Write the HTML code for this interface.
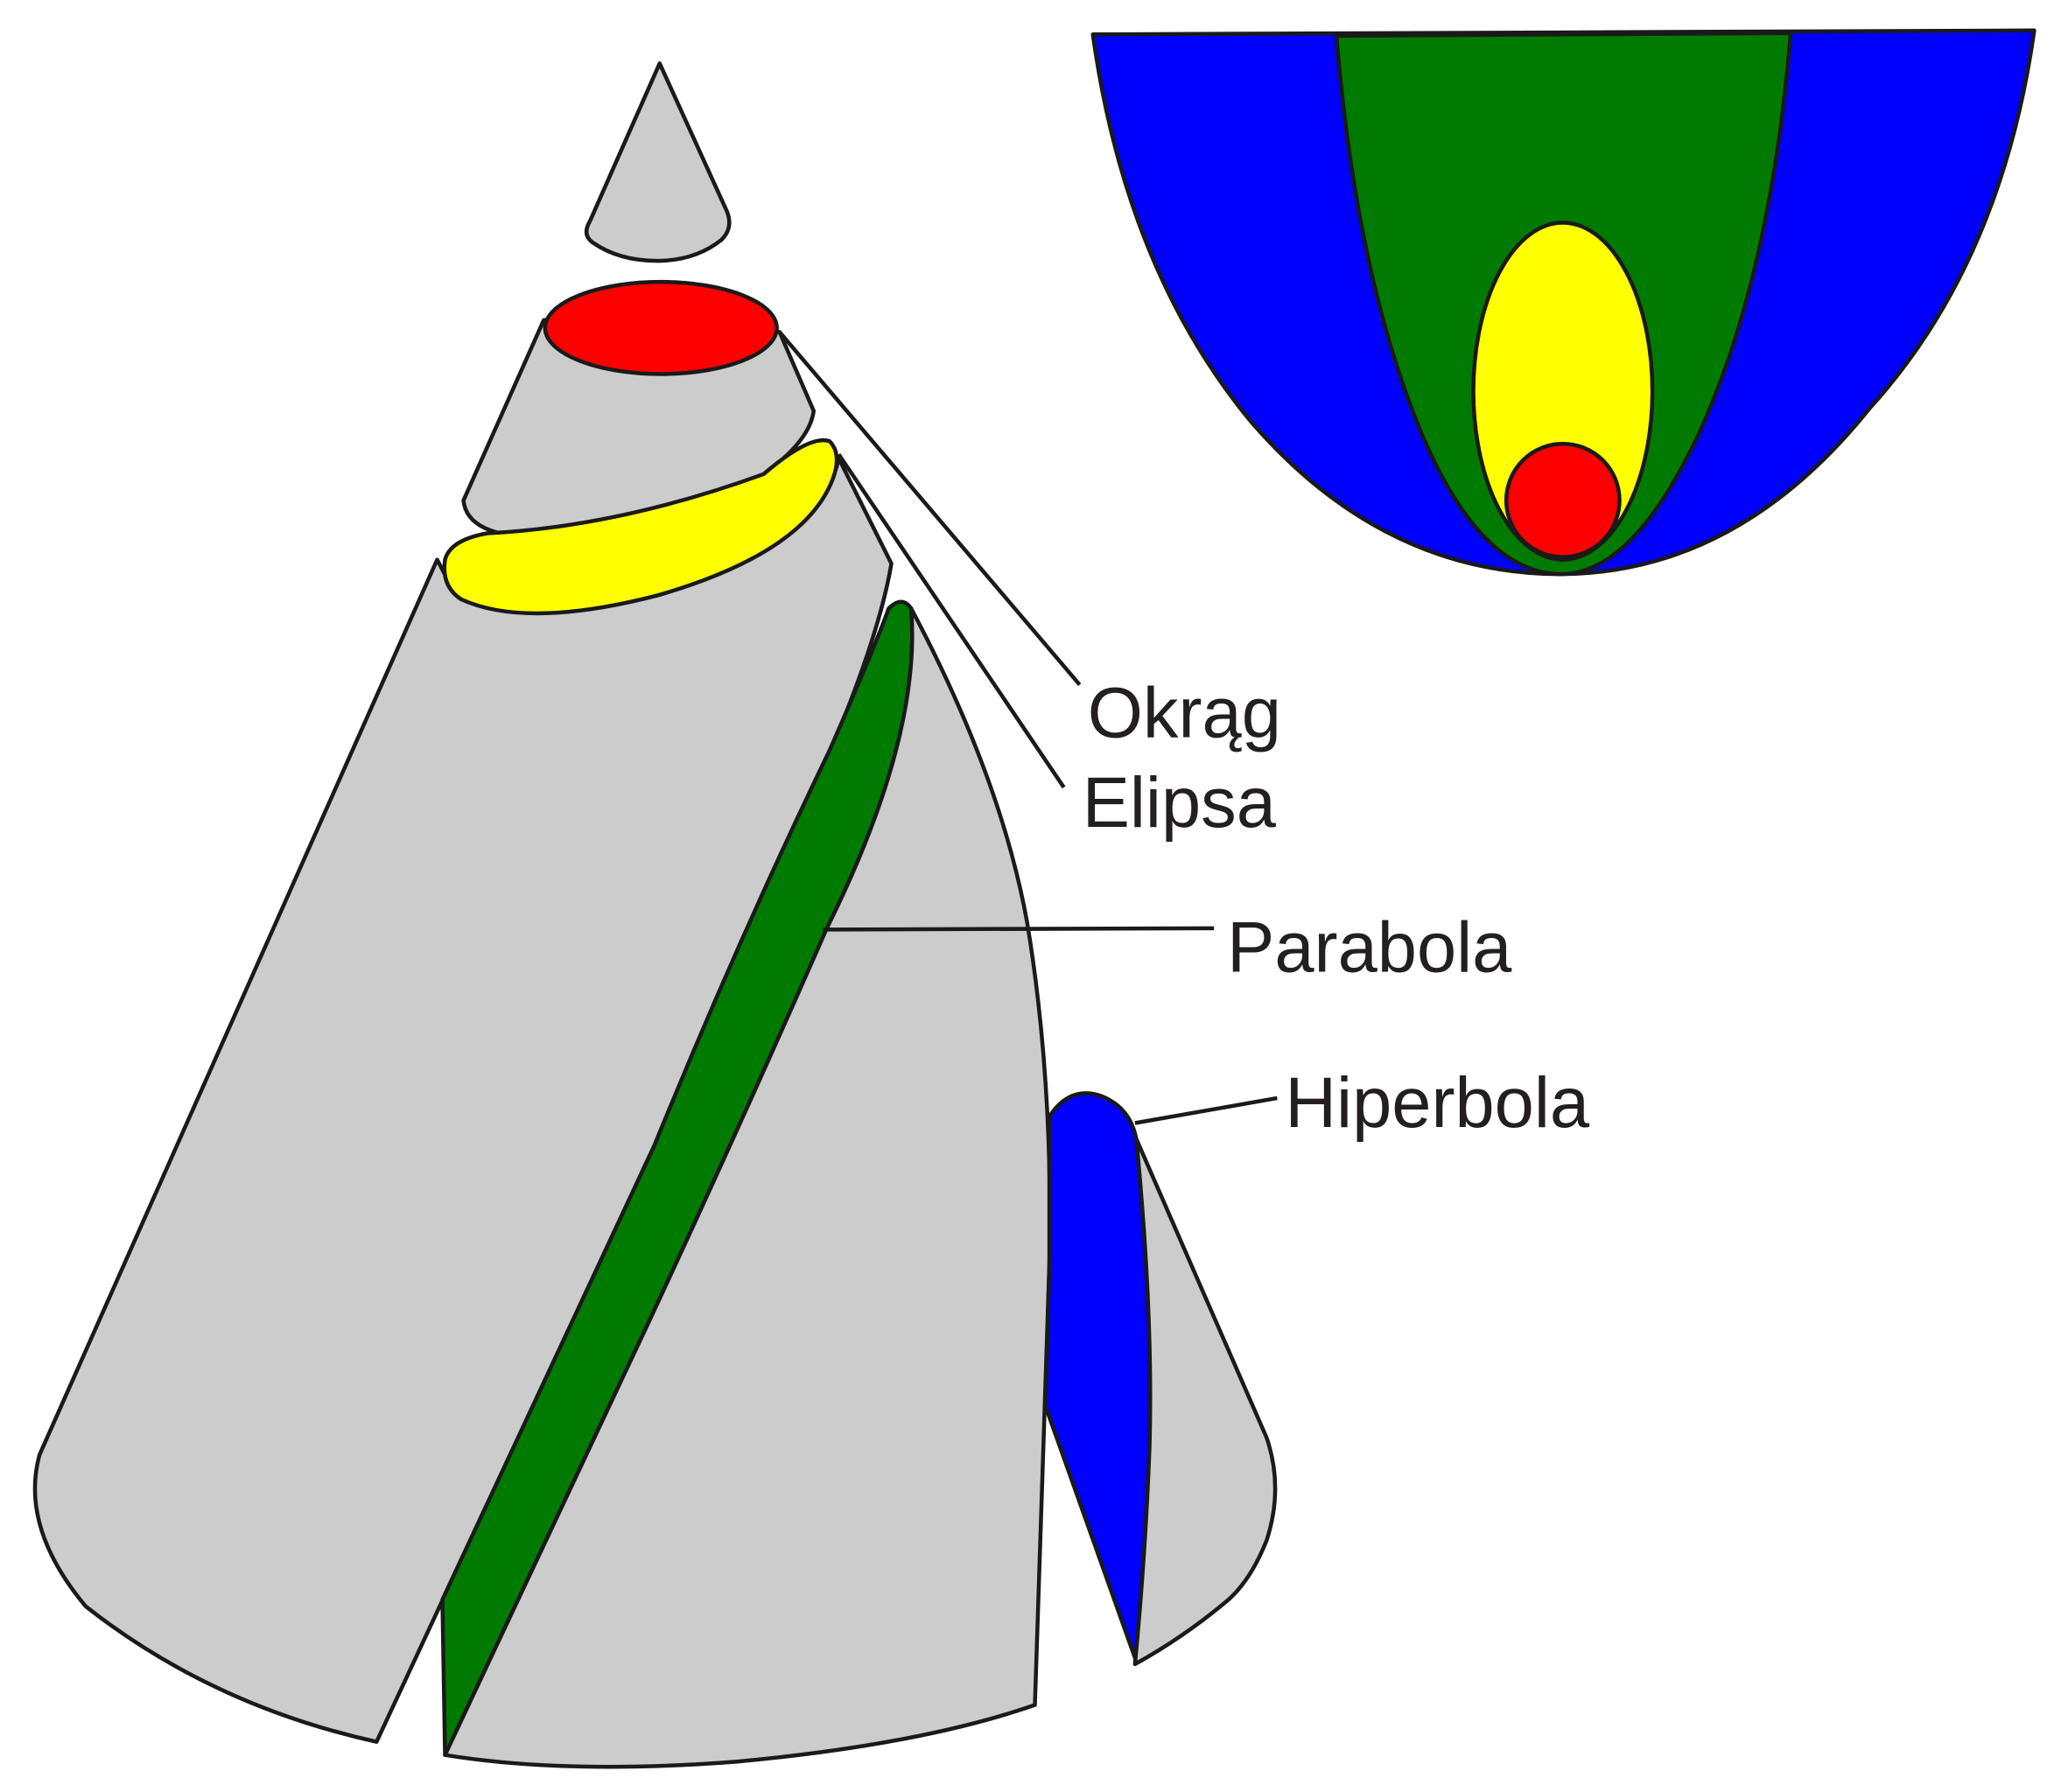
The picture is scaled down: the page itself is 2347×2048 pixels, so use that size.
<!DOCTYPE html>
<html><head><meta charset="utf-8"><style>
html,body{margin:0;padding:0;background:#fff;}
svg{display:block;}
text{font-family:"Liberation Sans",sans-serif;font-size:54px;fill:#231f20;}
</style></head><body>
<svg width="2347" height="2048" viewBox="0 0 1560 1361" xmlns="http://www.w3.org/2000/svg">
<g stroke="#1a1a1a" stroke-width="3" stroke-linejoin="round">
<!-- tip -->
<path d="M501,48 L551,158 Q558,172 548,182 Q528,198 499,198 Q470,198 450,184 Q442,178 448,168 Z" fill="#cccccc"/>
<!-- middle frustum -->
<path d="M413,243 L352,380 Q355,410 420,408 Q500,405 580,360 Q615,335 618,312 L592,252 Z" fill="#cccccc"/>
<ellipse cx="502" cy="249" rx="88" ry="35" fill="#ff0000"/>
<!-- lower left gray -->
<path d="M332,425 L30,1105 Q15,1160 65,1220 Q160,1295 286,1323 L497,870 Q540,765 600,640 Q665,500 677,428 L637,348 Q625,410 500,452 Q390,480 345,450 Z" fill="#cccccc"/>
<!-- yellow band -->
<path d="M370,405 Q470,400 580,360 Q615,330 630,335 Q640,345 632,365 Q610,420 500,452 Q400,478 350,455 Q335,445 338,425 Q342,410 370,405 Z" fill="#ffff00"/>
<!-- green strip -->
<path d="M497,870 Q560,715 630,570 Q665,490 675,462 Q685,452 692,462 Q700,560 628,705 Q560,860 490,1010 L338,1333 L336,1215 Z" fill="#007a00"/>
<!-- middle gray -->
<path d="M692,462 Q760,590 780,700 Q800,820 797,960 L786,1295 Q700,1325 560,1338 Q430,1348 338,1333 L490,1010 Q560,860 628,705 Q700,560 692,462 Z" fill="#cccccc"/>
<!-- blue hyperbola -->
<path d="M797,848 Q812,825 835,832 Q858,840 863,865 Q876,1000 873,1100 Q870,1180 863,1262 L794,1068 L797,960 Z" fill="#0000ff"/>
<!-- right gray -->
<path d="M863,865 L962,1092 Q975,1130 962,1170 Q950,1200 933,1215 Q900,1243 862,1264 Q870,1180 873,1100 Q876,1000 863,865 Z" fill="#cccccc"/>
<!-- leaders -->
<line x1="592" y1="252" x2="820" y2="520" fill="none"/>
<line x1="637" y1="345" x2="808" y2="598" fill="none"/>
<line x1="625" y1="706" x2="922" y2="705" fill="none"/>
<line x1="862" y1="853" x2="970" y2="834" fill="none"/>
<!-- top right diagram -->
<path d="M830,26 L1545,23 Q1520,200 1420,310 Q1320,435 1186,436 Q1050,436 950,320 Q855,205 830,26 Z" fill="#0000ff"/>
<path d="M1015,27 L1360,25 Q1345,210 1290,330 Q1240,436 1186,436 Q1125,436 1080,330 Q1030,210 1015,27 Z" fill="#007a00"/>
<ellipse cx="1187" cy="297" rx="68" ry="128" fill="#ffff00"/>
<circle cx="1187" cy="380" r="43" fill="#ff0000"/>
</g>
<text x="826" y="560">Okrąg</text>
<text x="822" y="628">Elipsa</text>
<text x="932" y="738">Parabola</text>
<text x="976" y="856">Hiperbola</text>
</svg>
</body></html>
